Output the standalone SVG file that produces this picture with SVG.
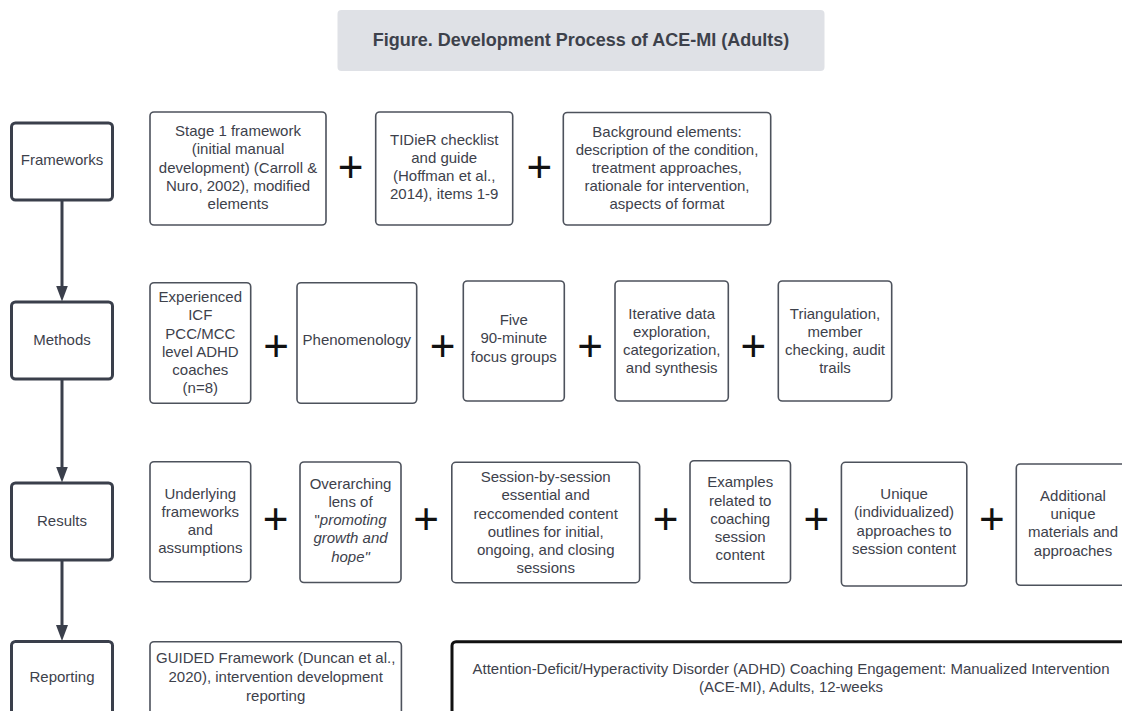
<svg xmlns="http://www.w3.org/2000/svg" width="1122" height="711" viewBox="0 0 1122 711">
  <defs>
    <marker id="arrowhead" markerUnits="userSpaceOnUse" markerWidth="16" markerHeight="12" refX="6" refY="6" orient="auto">
      <path d="M0,0 L16,6 L0,12 z" fill="#3a3f4b"/>
    </marker>
    <style>
      .stage rect { fill: #ffffff; stroke: #3a3f4b; stroke-width: 3; }
      .item rect { fill: #ffffff; stroke: #4d525c; stroke-width: 1.6; }
      .product rect { fill: #ffffff; stroke: #111111; stroke-width: 3; }
      text { font-family: "Liberation Sans", Arial, sans-serif; font-size: 15px; fill: #3d414b; text-anchor: middle; }
      .plus { font-size: 44px; fill: #111111; }
      .title-text { font-size: 18px; font-weight: bold; }
      .connector { stroke: #3a3f4b; stroke-width: 3; fill: none; marker-end: url(#arrowhead); }
      .em { font-style: italic; }
    </style>
  </defs>

  <rect width="1122" height="711" fill="#ffffff"/>

  <!-- heading -->
  <g id="title">
    <rect x="337.5" y="10" width="487" height="61" rx="4" fill="#dfe1e6"/>
    <text class="title-text" x="581" y="46">Figure. Development Process of ACE-MI (Adults)</text>
  </g>

  <!-- process stages (left column) -->
  <g id="stage-frameworks" class="stage">
    <rect x="11.5" y="123" width="101" height="77" rx="4"/>
    <text x="62" y="165">Frameworks</text>
  </g>
  <g id="stage-methods" class="stage">
    <rect x="11.5" y="302" width="101" height="77" rx="4"/>
    <text x="62" y="345">Methods</text>
  </g>
  <g id="stage-results" class="stage">
    <rect x="11.5" y="483" width="101" height="77" rx="4"/>
    <text x="62" y="526">Results</text>
  </g>
  <g id="stage-reporting" class="stage">
    <rect x="11.5" y="641.5" width="101" height="77" rx="4"/>
    <text x="62" y="682">Reporting</text>
  </g>

  <!-- connectors between stages -->
  <g id="connectors">
    <line class="connector" x1="62" y1="200" x2="62" y2="291.5"/>
    <line class="connector" x1="62" y1="379" x2="62" y2="472.5"/>
    <line class="connector" x1="62" y1="560" x2="62" y2="631"/>
  </g>

  <!-- frameworks row -->
  <g id="fw-stage1" class="item">
    <rect x="150" y="112" width="176" height="113" rx="4"/>
    <text x="238" y="136">Stage 1 framework</text>
    <text x="238" y="154.3">(initial manual</text>
    <text x="238" y="172.6">development) (Carroll &amp;</text>
    <text x="238" y="190.9">Nuro, 2002), modified</text>
    <text x="238" y="209.2">elements</text>
  </g>
  <text class="plus" x="350.6" y="182">+</text>
  <g id="fw-tidier" class="item">
    <rect x="375.7" y="112" width="137" height="113" rx="4"/>
    <text x="444.2" y="145">TIDieR checklist</text>
    <text x="444.2" y="163">and guide</text>
    <text x="444.2" y="181">(Hoffman et al.,</text>
    <text x="444.2" y="199">2014), items 1-9</text>
  </g>
  <text class="plus" x="539.3" y="182">+</text>
  <g id="fw-background" class="item">
    <rect x="563.3" y="112.5" width="207.4" height="112.5" rx="4"/>
    <text x="667" y="137">Background elements:</text>
    <text x="667" y="155">description of the condition,</text>
    <text x="667" y="173">treatment approaches,</text>
    <text x="667" y="191">rationale for intervention,</text>
    <text x="667" y="209">aspects of format</text>
  </g>

  <!-- methods row -->
  <g id="m-coaches" class="item">
    <rect x="150" y="282.7" width="100.7" height="120.6" rx="4"/>
    <text x="200.3" y="302">Experienced</text>
    <text x="200.3" y="320">ICF</text>
    <text x="200.3" y="338.5">PCC/MCC</text>
    <text x="200.3" y="356.5">level ADHD</text>
    <text x="200.3" y="374.5">coaches</text>
    <text x="200.3" y="392.5">(n=8)</text>
  </g>
  <text class="plus" x="276" y="361">+</text>
  <g id="m-phenomenology" class="item">
    <rect x="297" y="282.7" width="119.7" height="120.6" rx="4"/>
    <text x="356.8" y="345">Phenomenology</text>
  </g>
  <text class="plus" x="442.7" y="361">+</text>
  <g id="m-focus-groups" class="item">
    <rect x="463.3" y="281" width="101" height="120" rx="4"/>
    <text x="513.8" y="325">Five</text>
    <text x="513.8" y="343.3">90-minute</text>
    <text x="513.8" y="361.6">focus groups</text>
  </g>
  <text class="plus" x="590" y="361">+</text>
  <g id="m-analysis" class="item">
    <rect x="615" y="281" width="113.3" height="120" rx="4"/>
    <text x="671.7" y="318.5">Iterative data</text>
    <text x="671.7" y="336.5">exploration,</text>
    <text x="671.7" y="354.5">categorization,</text>
    <text x="671.7" y="372.5">and synthesis</text>
  </g>
  <text class="plus" x="753.3" y="361">+</text>
  <g id="m-rigor" class="item">
    <rect x="778.3" y="281" width="113.4" height="120" rx="4"/>
    <text x="835" y="318.5">Triangulation,</text>
    <text x="835" y="336.5">member</text>
    <text x="835" y="354.5">checking, audit</text>
    <text x="835" y="372.5">trails</text>
  </g>

  <!-- results row -->
  <g id="r-frameworks" class="item">
    <rect x="150" y="461.7" width="100.7" height="120" rx="4"/>
    <text x="200.3" y="499">Underlying</text>
    <text x="200.3" y="517">frameworks</text>
    <text x="200.3" y="535">and</text>
    <text x="200.3" y="553">assumptions</text>
  </g>
  <text class="plus" x="275.7" y="534">+</text>
  <g id="r-lens" class="item">
    <rect x="300" y="462" width="101" height="120.5" rx="4"/>
    <text x="350.5" y="488.5">Overarching</text>
    <text x="350.5" y="506.7">lens of</text>
    <text x="350.5" y="525">"<tspan class="em">promoting</tspan></text>
    <text x="350.5" y="543.2" class="em">growth and</text>
    <text x="350.5" y="561.5" class="em">hope"</text>
  </g>
  <text class="plus" x="426" y="534">+</text>
  <g id="r-outlines" class="item">
    <rect x="451.8" y="462.3" width="187.8" height="120.4" rx="4"/>
    <text x="545.7" y="482.3">Session-by-session</text>
    <text x="545.7" y="500.4">essential and</text>
    <text x="545.7" y="518.5">reccomended content</text>
    <text x="545.7" y="536.6">outlines for initial,</text>
    <text x="545.7" y="554.7">ongoing, and closing</text>
    <text x="545.7" y="572.8">sessions</text>
  </g>
  <text class="plus" x="665.7" y="534">+</text>
  <g id="r-examples" class="item">
    <rect x="690" y="460.7" width="100.5" height="122" rx="4"/>
    <text x="740.2" y="487.3">Examples</text>
    <text x="740.2" y="505.5">related to</text>
    <text x="740.2" y="523.7">coaching</text>
    <text x="740.2" y="541.9">session</text>
    <text x="740.2" y="560.1">content</text>
  </g>
  <text class="plus" x="816.3" y="534">+</text>
  <g id="r-unique" class="item">
    <rect x="841.4" y="462.3" width="125.4" height="123.7" rx="4"/>
    <text x="904.1" y="499">Unique</text>
    <text x="904.1" y="517.3">(individualized)</text>
    <text x="904.1" y="535.6">approaches to</text>
    <text x="904.1" y="553.9">session content</text>
  </g>
  <text class="plus" x="991.9" y="534">+</text>
  <g id="r-additional" class="item">
    <rect x="1016.3" y="464" width="114" height="121.3" rx="4"/>
    <text x="1073" y="500.7">Additional</text>
    <text x="1073" y="519">unique</text>
    <text x="1073" y="537.3">materials and</text>
    <text x="1073" y="555.6">approaches</text>
  </g>

  <!-- reporting row -->
  <g id="rep-guided" class="item">
    <rect x="150" y="641.7" width="251.4" height="80" rx="4"/>
    <text x="275.7" y="663.3">GUIDED Framework (Duncan et al.,</text>
    <text x="275.7" y="682.1">2020), intervention development</text>
    <text x="275.7" y="700.9">reporting</text>
  </g>
  <g id="rep-manual" class="product">
    <rect x="452" y="641.7" width="678" height="80" rx="4"/>
    <text x="791" y="674.3" font-size="14.5" textLength="637" lengthAdjust="spacingAndGlyphs">Attention-Deficit/Hyperactivity Disorder (ADHD) Coaching Engagement: Manualized Intervention</text>
    <text x="791" y="691.7" font-size="14.5" textLength="184" lengthAdjust="spacingAndGlyphs">(ACE-MI), Adults, 12-weeks</text>
  </g>
</svg>
